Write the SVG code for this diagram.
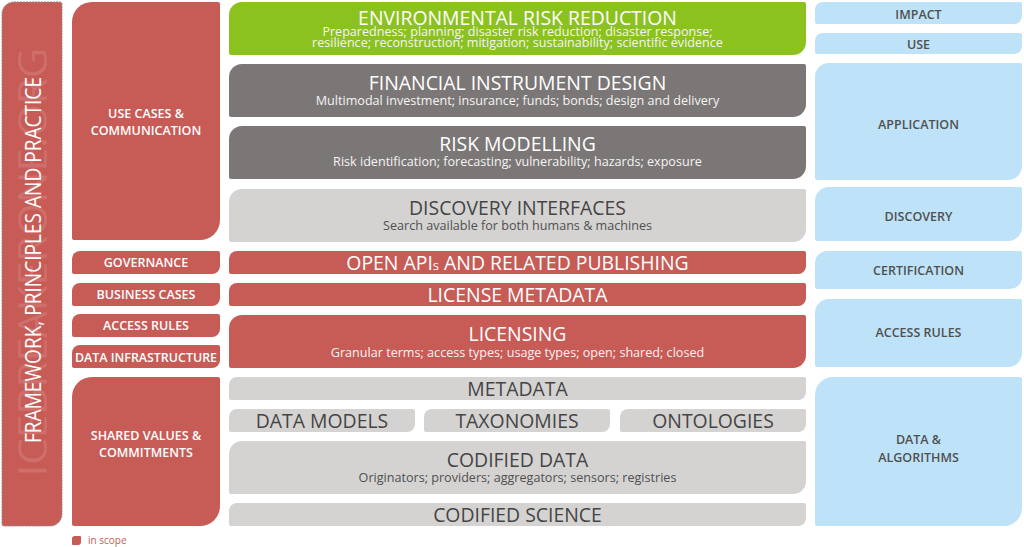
<svg xmlns="http://www.w3.org/2000/svg" width="1024" height="547" viewBox="0 0 1024 547">
  <style>
    text { font-family: "Open Sans", "Liberation Sans", sans-serif; text-anchor: middle; }
    .red { fill: #c75b56; }
    .green { fill: #8cc21e; }
    .dark { fill: #7b7776; }
    .light { fill: #d4d3d2; }
    .blue { fill: #bee3f8; }
    .title { font-size: 19.4px; font-weight: 500; fill: #ffffff; }
    .title-d { font-size: 19.4px; font-weight: 500; fill: #454545; }
    .sub { font-size: 12.6px; fill: #f4f4f4; }
    .sub-d { font-size: 12.6px; fill: #505050; }
    .side { font-size: 12.5px; font-weight: 600; fill: #ffffff; }
    .layer { font-size: 12.5px; font-weight: 600; fill: #505050; }
  </style>

  <!-- outer framework band -->
  <g id="framework">
    <path class="red" stroke="#8c8c8c" stroke-width="1" stroke-dasharray="2 1" d="M14,2 H60 Q62,2 62,4 V514 A12,12 0 0 1 50,526 H4 Q2,526 2,524 V14 A12,12 0 0 1 14,2 Z"/>
    <text transform="translate(47,262) rotate(-90)" font-size="40" fill="#ffffff" fill-opacity="0.12" textLength="429" lengthAdjust="spacingAndGlyphs">ICEBREAKERONE.ORG</text>
    <text transform="translate(40.5,260) rotate(-90)" font-size="21" fill="#ffffff" textLength="366" lengthAdjust="spacingAndGlyphs">FRAMEWORK, PRINCIPLES AND PRACTICE</text>
  </g>

  <!-- governance column -->
  <g id="use-cases" transform="translate(72,2)">
    <path class="red" d="M20,0 H146 Q148,0 148,2 V218 A20,20 0 0 1 128,238 H2 Q0,238 0,236 V20 A20,20 0 0 1 20,0 Z"/>
    <text class="side" x="74" y="116.3">USE CASES &amp;</text>
    <text class="side" x="74" y="133">COMMUNICATION</text>
  </g>
  <g id="governance" transform="translate(72,251)">
    <path class="red" d="M8,0 H146 Q148,0 148,2 V15 A8,8 0 0 1 140,23 H2 Q0,23 0,21 V8 A8,8 0 0 1 8,0 Z"/>
    <text class="side" x="74" y="16.3">GOVERNANCE</text>
  </g>
  <g id="business-cases" transform="translate(72,283)">
    <path class="red" d="M8,0 H146 Q148,0 148,2 V15 A8,8 0 0 1 140,23 H2 Q0,23 0,21 V8 A8,8 0 0 1 8,0 Z"/>
    <text class="side" x="74" y="16.3">BUSINESS CASES</text>
  </g>
  <g id="access-rules-left" transform="translate(72,314)">
    <path class="red" d="M8,0 H146 Q148,0 148,2 V15 A8,8 0 0 1 140,23 H2 Q0,23 0,21 V8 A8,8 0 0 1 8,0 Z"/>
    <text class="side" x="74" y="16.3">ACCESS RULES</text>
  </g>
  <g id="data-infrastructure" transform="translate(72,345)">
    <path class="red" d="M8,0 H146 Q148,0 148,2 V15 A8,8 0 0 1 140,23 H2 Q0,23 0,21 V8 A8,8 0 0 1 8,0 Z"/>
    <text class="side" x="74" y="16.7" textLength="142" lengthAdjust="spacingAndGlyphs">DATA INFRASTRUCTURE</text>
  </g>
  <g id="shared-values" transform="translate(72,377)">
    <path class="red" d="M20,0 H146 Q148,0 148,2 V129 A20,20 0 0 1 128,149 H2 Q0,149 0,147 V20 A20,20 0 0 1 20,0 Z"/>
    <text class="side" x="74" y="63">SHARED VALUES &amp;</text>
    <text class="side" x="74" y="80.3">COMMITMENTS</text>
  </g>

  <!-- central stack -->
  <g id="environmental-risk-reduction" transform="translate(229,2)">
    <path class="green" d="M13,0 H575 Q577,0 577,2 V40 A13,13 0 0 1 564,53 H2 Q0,53 0,51 V13 A13,13 0 0 1 13,0 Z"/>
    <text class="title" x="288.5" y="23">ENVIRONMENTAL RISK REDUCTION</text>
    <text class="sub" x="288.5" y="33.5" font-size="11.5">Preparedness; planning; disaster risk reduction; disaster response;</text>
    <text class="sub" x="288.5" y="44.5" font-size="11.5">resilience; reconstruction; mitigation; sustainability; scientific evidence</text>
  </g>
  <g id="financial-instrument-design" transform="translate(229,64)">
    <path class="dark" d="M13,0 H575 Q577,0 577,2 V40 A13,13 0 0 1 564,53 H2 Q0,53 0,51 V13 A13,13 0 0 1 13,0 Z"/>
    <text class="title" x="288.5" y="26">FINANCIAL INSTRUMENT DESIGN</text>
    <text class="sub" x="288.5" y="41">Multimodal investment; insurance; funds; bonds; design and delivery</text>
  </g>
  <g id="risk-modelling" transform="translate(229,126)">
    <path class="dark" d="M13,0 H575 Q577,0 577,2 V40 A13,13 0 0 1 564,53 H2 Q0,53 0,51 V13 A13,13 0 0 1 13,0 Z"/>
    <text class="title" x="288.5" y="25">RISK MODELLING</text>
    <text class="sub" x="288.5" y="40">Risk identification; forecasting; vulnerability; hazards; exposure</text>
  </g>
  <g id="discovery-interfaces" transform="translate(229,189)">
    <path class="light" d="M13,0 H575 Q577,0 577,2 V40 A13,13 0 0 1 564,53 H2 Q0,53 0,51 V13 A13,13 0 0 1 13,0 Z"/>
    <text class="title-d" x="288.5" y="25.5">DISCOVERY INTERFACES</text>
    <text class="sub-d" x="288.5" y="40.5">Search available for both humans &amp; machines</text>
  </g>
  <g id="open-apis" transform="translate(229,251)">
    <path class="red" d="M8,0 H575 Q577,0 577,2 V15 A8,8 0 0 1 569,23 H2 Q0,23 0,21 V8 A8,8 0 0 1 8,0 Z"/>
    <text class="title" x="288.5" y="18.5">OPEN API<tspan font-size="13">s</tspan> AND RELATED PUBLISHING</text>
  </g>
  <g id="license-metadata" transform="translate(229,283)">
    <path class="red" d="M8,0 H575 Q577,0 577,2 V15 A8,8 0 0 1 569,23 H2 Q0,23 0,21 V8 A8,8 0 0 1 8,0 Z"/>
    <text class="title" x="288.5" y="18.5">LICENSE METADATA</text>
  </g>
  <g id="licensing" transform="translate(229,315)">
    <path class="red" d="M13,0 H575 Q577,0 577,2 V40 A13,13 0 0 1 564,53 H2 Q0,53 0,51 V13 A13,13 0 0 1 13,0 Z"/>
    <text class="title" x="288.5" y="26">LICENSING</text>
    <text class="sub" x="288.5" y="41.5">Granular terms; access types; usage types; open; shared; closed</text>
  </g>
  <g id="metadata" transform="translate(229,377)">
    <path class="light" d="M8,0 H575 Q577,0 577,2 V15 A8,8 0 0 1 569,23 H2 Q0,23 0,21 V8 A8,8 0 0 1 8,0 Z"/>
    <text class="title-d" x="288.5" y="19">METADATA</text>
  </g>
  <g id="data-models" transform="translate(229,409)">
    <path class="light" d="M8,0 H184 Q186,0 186,2 V15 A8,8 0 0 1 178,23 H2 Q0,23 0,21 V8 A8,8 0 0 1 8,0 Z"/>
    <text class="title-d" x="93" y="19">DATA MODELS</text>
  </g>
  <g id="taxonomies" transform="translate(424,409)">
    <path class="light" d="M8,0 H184 Q186,0 186,2 V15 A8,8 0 0 1 178,23 H2 Q0,23 0,21 V8 A8,8 0 0 1 8,0 Z"/>
    <text class="title-d" x="93" y="19">TAXONOMIES</text>
  </g>
  <g id="ontologies" transform="translate(620,409)">
    <path class="light" d="M8,0 H184 Q186,0 186,2 V15 A8,8 0 0 1 178,23 H2 Q0,23 0,21 V8 A8,8 0 0 1 8,0 Z"/>
    <text class="title-d" x="93" y="19">ONTOLOGIES</text>
  </g>
  <g id="codified-data" transform="translate(229,441)">
    <path class="light" d="M13,0 H575 Q577,0 577,2 V40 A13,13 0 0 1 564,53 H2 Q0,53 0,51 V13 A13,13 0 0 1 13,0 Z"/>
    <text class="title-d" x="288.5" y="26">CODIFIED DATA</text>
    <text class="sub-d" x="288.5" y="40.5">Originators; providers; aggregators; sensors; registries</text>
  </g>
  <g id="codified-science" transform="translate(229,503)">
    <path class="light" d="M8,0 H575 Q577,0 577,2 V15 A8,8 0 0 1 569,23 H2 Q0,23 0,21 V8 A8,8 0 0 1 8,0 Z"/>
    <text class="title-d" x="288.5" y="18.5">CODIFIED SCIENCE</text>
  </g>

  <!-- outcome layers -->
  <g id="impact" transform="translate(815,2)">
    <path class="blue" d="M8,0 H205 Q207,0 207,2 V14 A8,8 0 0 1 199,22 H2 Q0,22 0,20 V8 A8,8 0 0 1 8,0 Z"/>
    <text class="layer" x="103.5" y="17.3">IMPACT</text>
  </g>
  <g id="use" transform="translate(815,33)">
    <path class="blue" d="M8,0 H205 Q207,0 207,2 V13 A8,8 0 0 1 199,21 H2 Q0,21 0,19 V8 A8,8 0 0 1 8,0 Z"/>
    <text class="layer" x="103.5" y="16.3">USE</text>
  </g>
  <g id="application" transform="translate(815,63)">
    <path class="blue" d="M14,0 H205 Q207,0 207,2 V103 A14,14 0 0 1 193,117 H2 Q0,117 0,115 V14 A14,14 0 0 1 14,0 Z"/>
    <text class="layer" x="103.5" y="66.3">APPLICATION</text>
  </g>
  <g id="discovery" transform="translate(815,187)">
    <path class="blue" d="M14,0 H205 Q207,0 207,2 V40 A14,14 0 0 1 193,54 H2 Q0,54 0,52 V14 A14,14 0 0 1 14,0 Z"/>
    <text class="layer" x="103.5" y="33.7">DISCOVERY</text>
  </g>
  <g id="certification" transform="translate(815,251)">
    <path class="blue" d="M12,0 H205 Q207,0 207,2 V26 A12,12 0 0 1 195,38 H2 Q0,38 0,36 V12 A12,12 0 0 1 12,0 Z"/>
    <text class="layer" x="103.5" y="24">CERTIFICATION</text>
  </g>
  <g id="access-rules" transform="translate(815,299)">
    <path class="blue" d="M14,0 H205 Q207,0 207,2 V54 A14,14 0 0 1 193,68 H2 Q0,68 0,66 V14 A14,14 0 0 1 14,0 Z"/>
    <text class="layer" x="103.5" y="38.3">ACCESS RULES</text>
  </g>
  <g id="data-algorithms" transform="translate(815,377)">
    <path class="blue" d="M18,0 H205 Q207,0 207,2 V131 A18,18 0 0 1 189,149 H2 Q0,149 0,147 V18 A18,18 0 0 1 18,0 Z"/>
    <text class="layer" x="103.5" y="67">DATA &amp;</text>
    <text class="layer" x="103.5" y="84.7">ALGORITHMS</text>
  </g>

  <!-- no connectors in this layered chart -->
  <g id="connectors"/>

  <!-- legend -->
  <g id="legend">
    <path class="red" d="M75,536 H80 Q81,536 81,537 V542 A3,3 0 0 1 78,545 H73 Q72,545 72,544 V539 A3,3 0 0 1 75,536 Z"/>
    <text x="88" y="543.5" font-size="10" fill="#c75b56" style="text-anchor:start">in scope</text>
  </g>
</svg>
